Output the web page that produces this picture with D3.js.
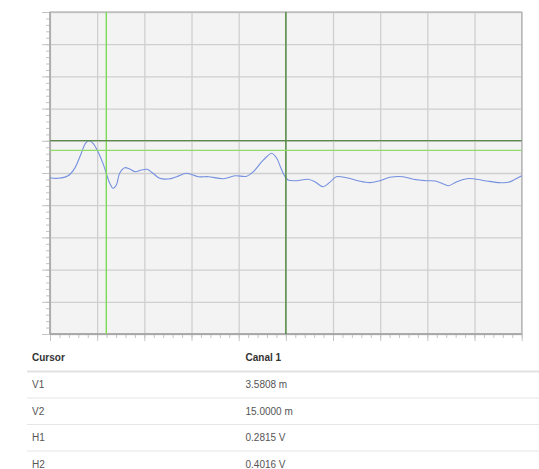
<!DOCTYPE html>
<html>
<head>
<meta charset="utf-8">
<script src="https://cdn.jsdelivr.net/npm/d3@7"></script>
<style>
  body { margin: 0; background: #fff; }
  svg { display: block; font-family: "Liberation Sans", Arial, sans-serif; }
</style>
</head>
<body>
<div id="scope"></div>
<script>
const width = 539;
const height = 469;

// Trace du canal 1 (temps en ms, tension en V)
const timeMs = [0, 0.51, 1.15, 1.57, 1.99, 2.25, 2.46, 2.74, 3.05, 3.37, 3.58, 3.80, 4.01, 4.22, 4.43, 4.75,
  5.07, 5.43, 5.81, 6.17, 6.55, 6.98, 7.51, 8.06, 8.69, 9.43, 10.07, 11.02, 11.77, 12.51, 12.93, 13.47,
  13.78, 14.10, 14.42, 14.69, 14.95, 15.14, 15.67, 16.41, 16.84, 17.37, 17.79, 18.21, 18.85, 19.59, 20.34,
  20.97, 21.61, 22.45, 23.11, 23.96, 24.49, 24.92, 25.34, 25.87, 26.51, 26.93, 27.78, 28.62, 29.15, 29.58, 30];
const volts = [-0.06, -0.066, -0.034, 0.058, 0.245, 0.369, 0.401, 0.369, 0.265, 0.12, -0.004, -0.128, -0.19,
  -0.149, -0.004, 0.066, 0.05, 0.016, 0.037, 0.046, -0.004, -0.066, -0.075, -0.046, -0.004, -0.046, -0.046,
  -0.071, -0.034, -0.041, 0.016, 0.14, 0.202, 0.245, 0.183, 0.058, -0.046, -0.087, -0.096, -0.078, -0.108,
  -0.17, -0.116, -0.046, -0.058, -0.096, -0.12, -0.096, -0.053, -0.046, -0.078, -0.096, -0.099, -0.128,
  -0.158, -0.108, -0.071, -0.071, -0.099, -0.12, -0.116, -0.078, -0.034];

// Curseurs
const cursorNames = ["V1", "V2", "H1", "H2"];
const cursorValues = [3.5808, 15.0, 0.2815, 0.4016];
const cursorLabels = ["3.5808 m", "15.0000 m", "0.2815 V", "0.4016 V"];
const tableHeader = ["Cursor", "Canal 1"];

const xTicks = d3.range(0, 30.01, 3);
const yTicks = d3.range(-2, 2.01, 0.4);
const xMinor = d3.range(0, 30.01, 0.6);
const yMinor = d3.range(-2, 2.01, 0.08);

const plot = { left: 50, top: 12, right: 521.7, bottom: 334 };

const svg = d3.select("#scope")
  .append("svg")
  .attr("width", width)
  .attr("height", height);

const x = d3.scaleLinear().domain([0, 30]).range([plot.left, plot.right]);
const y = d3.scaleLinear().domain([-2, 2]).range([plot.bottom, plot.top]);

// Fond
svg.append("rect")
  .attr("x", plot.left).attr("y", plot.top)
  .attr("width", plot.right - plot.left).attr("height", plot.bottom - plot.top)
  .attr("fill", "#f3f3f3");

// Grille
svg.append("g")
  .attr("transform", `translate(0,${plot.bottom})`)
  .call(d3.axisBottom(x).tickValues(xTicks).tickSize(-(plot.bottom - plot.top)).tickFormat(""))
  .call(g => g.select(".domain").remove())
  .call(g => g.selectAll("line").attr("stroke", "#cfcfcf").attr("stroke-width", 1.3));

svg.append("g")
  .attr("transform", `translate(${plot.left},0)`)
  .call(d3.axisLeft(y).tickValues(yTicks).tickSize(-(plot.right - plot.left)).tickFormat(""))
  .call(g => g.select(".domain").remove())
  .call(g => g.selectAll("line").attr("stroke", "#cfcfcf").attr("stroke-width", 1.3));

// Graduations
const tickColor = "#c4c4c4";
svg.append("g")
  .attr("transform", `translate(0,${plot.bottom})`)
  .call(d3.axisBottom(x).tickValues(xMinor).tickSize(4).tickFormat(""))
  .call(g => g.select(".domain").remove())
  .call(g => g.selectAll("line").attr("stroke", tickColor));
svg.append("g")
  .attr("transform", `translate(0,${plot.bottom})`)
  .call(d3.axisBottom(x).tickValues(xTicks).tickSize(7).tickFormat(""))
  .call(g => g.select(".domain").remove())
  .call(g => g.selectAll("line").attr("stroke", tickColor));
svg.append("g")
  .attr("transform", `translate(${plot.left},0)`)
  .call(d3.axisLeft(y).tickValues(yMinor).tickSize(4).tickFormat(""))
  .call(g => g.select(".domain").remove())
  .call(g => g.selectAll("line").attr("stroke", tickColor));
svg.append("g")
  .attr("transform", `translate(${plot.left},0)`)
  .call(d3.axisLeft(y).tickValues(yTicks).tickSize(8).tickFormat(""))
  .call(g => g.select(".domain").remove())
  .call(g => g.selectAll("line").attr("stroke", tickColor));

// Cadre
svg.append("rect")
  .attr("x", plot.left).attr("y", plot.top)
  .attr("width", plot.right - plot.left).attr("height", plot.bottom - plot.top)
  .attr("fill", "none")
  .attr("stroke", "#b5b5b5")
  .attr("stroke-width", 1.2);
svg.append("line")
  .attr("x1", plot.left).attr("x2", plot.left)
  .attr("y1", plot.top).attr("y2", plot.bottom)
  .attr("stroke", "#a8a8a8").attr("stroke-width", 1.5);
svg.append("line")
  .attr("x1", plot.left).attr("x2", plot.right)
  .attr("y1", plot.bottom).attr("y2", plot.bottom)
  .attr("stroke", "#a0a0a0").attr("stroke-width", 1.5);

// Signal
const points = timeMs.map((t, i) => [t, volts[i]]);
svg.append("path")
  .datum(points)
  .attr("fill", "none")
  .attr("stroke", "#7590e0")
  .attr("stroke-width", 1.1)
  .attr("d", d3.line().x(d => x(d[0])).y(d => y(d[1])).curve(d3.curveCatmullRom));

// Lignes des curseurs
const cursorColors = ["#7ed957", "#4e8a3a", "#8fdc6a", "#5b8a4a"];
cursorNames.forEach((name, i) => {
  const v = cursorValues[i];
  const line = svg.append("line")
    .attr("stroke", cursorColors[i])
    .attr("stroke-width", 1.4);
  if (name[0] === "V") {
    line.attr("x1", x(v)).attr("x2", x(v)).attr("y1", plot.top).attr("y2", plot.bottom);
  } else {
    line.attr("x1", plot.left).attr("x2", plot.right).attr("y1", y(v)).attr("y2", y(v));
  }
});

// Tableau des curseurs
const table = svg.append("g").attr("font-size", 10);
const col = [32, 245.5];
const rowTop = 371.5;
const rowH = 26.5;

tableHeader.forEach((h, i) => {
  table.append("text")
    .attr("x", col[i]).attr("y", 361)
    .attr("font-weight", "bold")
    .attr("fill", "#333")
    .text(h);
});

table.selectAll(".sep")
  .data(cursorNames)
  .join("line")
  .attr("class", "sep")
  .attr("x1", 27).attr("x2", width)
  .attr("y1", (d, i) => rowTop + i * rowH)
  .attr("y2", (d, i) => rowTop + i * rowH)
  .attr("stroke", (d, i) => i === 0 ? "#e2e2e2" : "#e6e6e6")
  .attr("stroke-width", (d, i) => i === 0 ? 2 : 1.2);

cursorNames.forEach((name, i) => {
  const yy = rowTop + i * rowH + 16.5;
  table.append("text").attr("x", col[0]).attr("y", yy).attr("fill", "#555").text(name);
  table.append("text").attr("x", col[1]).attr("y", yy).attr("fill", "#555").text(cursorLabels[i]);
});
</script>
</body>
</html>
